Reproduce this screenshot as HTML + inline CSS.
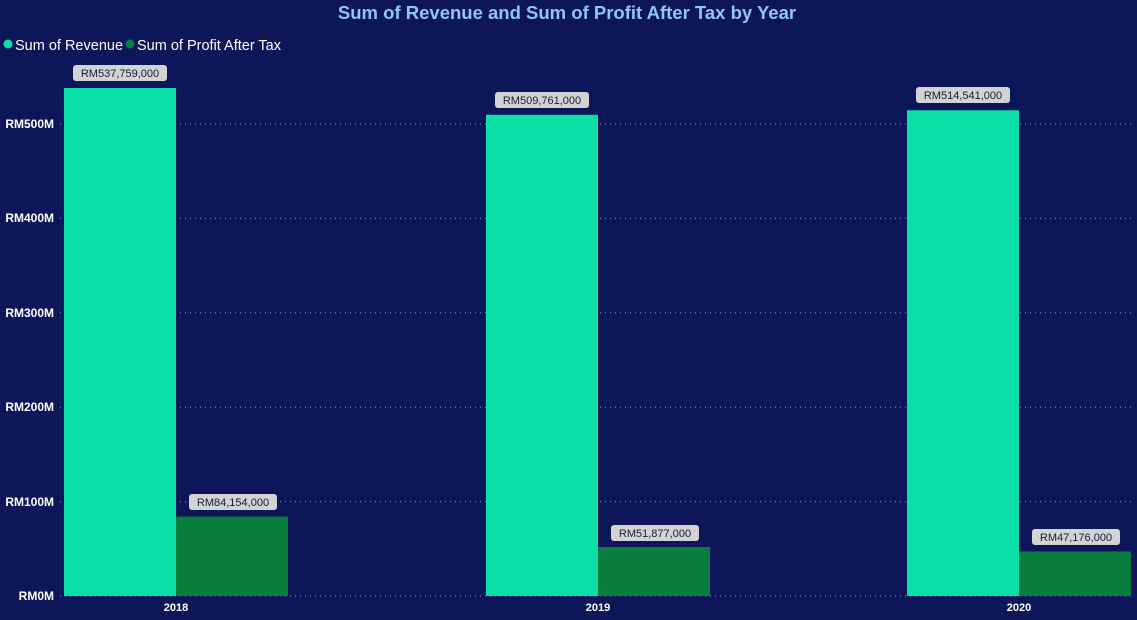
<!DOCTYPE html>
<html><head><style>
body{margin:0;background:#0e165a;}
svg{display:block;font-family:"Liberation Sans",sans-serif;}
</style></head><body>
<svg width="1137" height="620" viewBox="0 0 1137 620">
<rect width="1137" height="620" fill="#0e165a"/>
<text x="567" y="19" text-anchor="middle" font-size="18.5" font-weight="bold" fill="#8fc6f5">Sum of Revenue and Sum of Profit After Tax by Year</text>
<circle cx="8" cy="44" r="4.5" fill="#0be0a8"/>
<text x="15" y="50" font-size="14.5" fill="#fff">Sum of Revenue</text>
<circle cx="130" cy="44" r="4.5" fill="#0a7c3e"/>
<text x="137" y="50" font-size="14.5" fill="#fff">Sum of Profit After Tax</text>
<g stroke="#8a93c0" stroke-width="1" stroke-dasharray="1,4">
<line x1="60" y1="124" x2="1135" y2="124"/>
<line x1="60" y1="218.4" x2="1135" y2="218.4"/>
<line x1="60" y1="312.8" x2="1135" y2="312.8"/>
<line x1="60" y1="407.2" x2="1135" y2="407.2"/>
<line x1="60" y1="501.6" x2="1135" y2="501.6"/>
<line x1="60" y1="596" x2="1135" y2="596"/>
</g>
<g font-size="12" font-weight="bold" fill="#fff" text-anchor="end">
<text x="54" y="128">RM500M</text>
<text x="54" y="222">RM400M</text>
<text x="54" y="317">RM300M</text>
<text x="54" y="411">RM200M</text>
<text x="54" y="506">RM100M</text>
<text x="54" y="600">RM0M</text>
</g>
<g font-size="11" font-weight="bold" fill="#fff" text-anchor="middle">
<text x="176" y="611">2018</text>
<text x="598" y="611">2019</text>
<text x="1019" y="611">2020</text>
</g>
<g fill="#0be0a8">
<rect x="64" y="88" width="112" height="508"/>
<rect x="486" y="114.8" width="112" height="481.2"/>
<rect x="907" y="110.3" width="112" height="485.7"/>
</g>
<g fill="#0a7c3e">
<rect x="176" y="516.6" width="112" height="79.4"/>
<rect x="598" y="547" width="112" height="49"/>
<rect x="1019" y="551.5" width="112" height="44.5"/>
</g>
<g fill="#d3d3d3">
<rect x="73" y="65" width="94" height="16" rx="3"/>
<rect x="495" y="92" width="94" height="16" rx="3"/>
<rect x="916" y="87" width="94" height="16" rx="3"/>
<rect x="189" y="494" width="88" height="16" rx="3"/>
<rect x="611" y="525" width="88" height="16" rx="3"/>
<rect x="1032" y="529" width="88" height="16" rx="3"/>
</g>
<g font-size="11" fill="#1a1a3a" text-anchor="middle">
<text x="120" y="77">RM537,759,000</text>
<text x="542" y="104">RM509,761,000</text>
<text x="963" y="99">RM514,541,000</text>
<text x="233" y="506">RM84,154,000</text>
<text x="655" y="537">RM51,877,000</text>
<text x="1076" y="541">RM47,176,000</text>
</g>
</svg>
</body></html>
